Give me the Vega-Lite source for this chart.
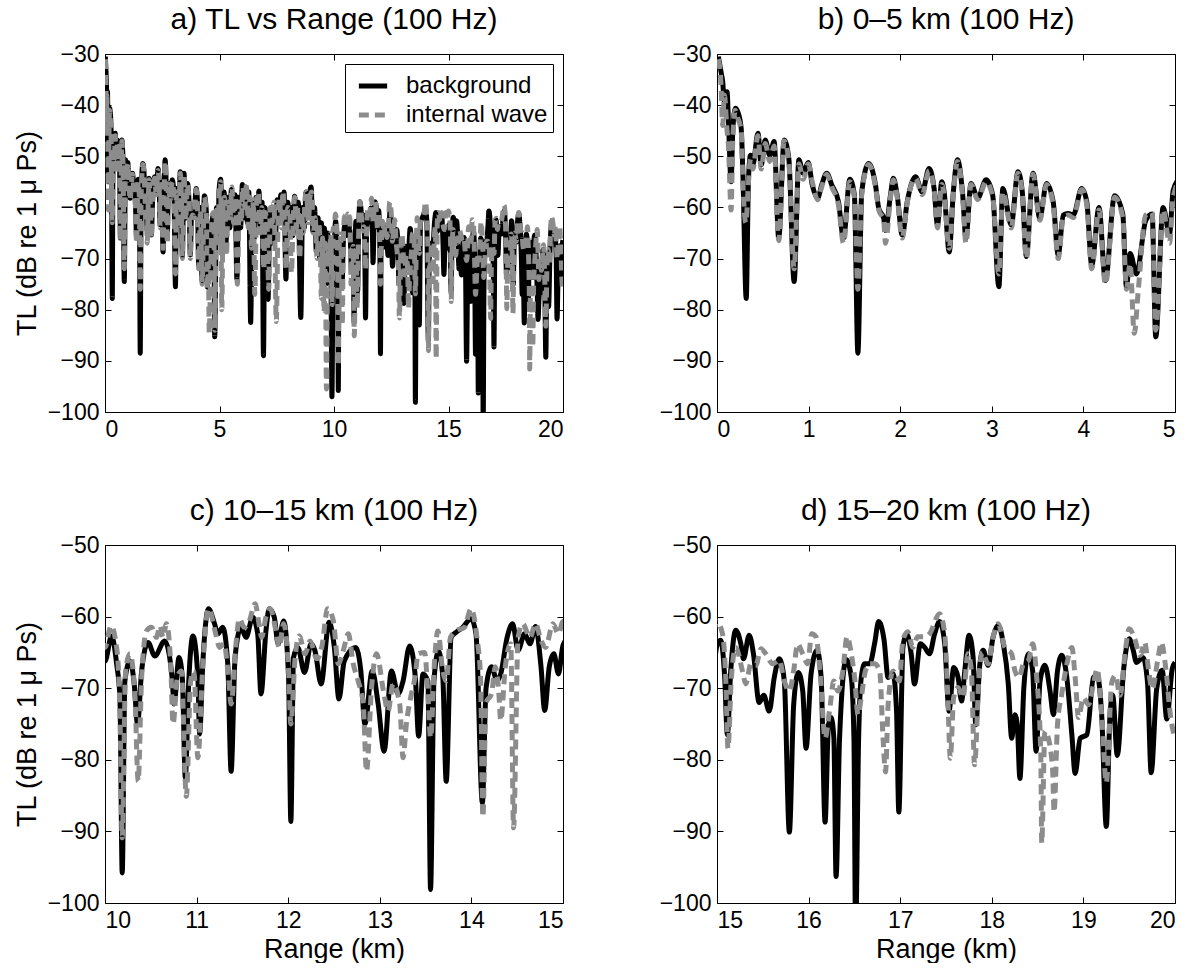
{
"$schema": "https://vega.github.io/schema/vega-lite/v6.json",
"background": "white",
"padding": {"left": 12, "top": 4, "right": 0, "bottom": 0},
"config": {
  "font": "Liberation Sans",
  "view": {"stroke": "black", "strokeWidth": 1},
  "axis": {"grid": false, "domain": false, "tickColor": "black", "tickSize": -6, "labelFontSize": 23, "labelColor": "black", "labelFont": "Liberation Sans", "titleFontSize": 27, "titleFont": "Liberation Sans", "titleFontWeight": "normal", "titleColor": "black", "labelPadding": 12},
  "title": {"fontSize": 30, "fontWeight": "normal", "font": "Liberation Sans", "color": "black", "offset": 8},
  "concat": {"spacing": 94}
},
"datasets": {
"bg": [
{"x":0.015,"y":-30.5},{"x":0.044,"y":-33.5},{"x":0.062,"y":-35.4},{"x":0.08,"y":-39.3},{"x":0.11,"y":-37.4},{"x":0.125,"y":-43.2},{"x":0.154,"y":-55},{"x":0.172,"y":-45.2},{"x":0.2,"y":-40.6},{"x":0.227,"y":-41.3},{"x":0.264,"y":-44.5},{"x":0.282,"y":-53},{"x":0.319,"y":-77.8},{"x":0.344,"y":-54.3},{"x":0.366,"y":-49.8},{"x":0.392,"y":-51.7},{"x":0.447,"y":-45.5},{"x":0.483,"y":-51.7},{"x":0.527,"y":-46.8},{"x":0.575,"y":-49.8},{"x":0.623,"y":-47.1},{"x":0.674,"y":-66},{"x":0.733,"y":-46.8},{"x":0.784,"y":-50.4},{"x":0.842,"y":-74.5},{"x":0.894,"y":-50.7},{"x":0.941,"y":-53.3},{"x":0.996,"y":-51.2},{"x":1.04,"y":-55.6},{"x":1.099,"y":-58.2},{"x":1.143,"y":-55.6},{"x":1.198,"y":-53.3},{"x":1.253,"y":-55.6},{"x":1.326,"y":-58.9},{"x":1.381,"y":-66},{"x":1.45,"y":-54.5},{"x":1.5,"y":-57.6},{"x":1.538,"y":-88.5},{"x":1.58,"y":-57},{"x":1.656,"y":-51.4},{"x":1.73,"y":-55.6},{"x":1.766,"y":-60.2},{"x":1.82,"y":-62.1},{"x":1.839,"y":-64.5},{"x":1.894,"y":-57.6},{"x":1.925,"y":-54.3},{"x":1.967,"y":-57.6},{"x":2.022,"y":-65.4},{"x":2.077,"y":-58.9},{"x":2.168,"y":-54},{"x":2.24,"y":-57},{"x":2.315,"y":-52.4},{"x":2.37,"y":-56.3},{"x":2.407,"y":-63.4},{"x":2.454,"y":-55},{"x":2.48,"y":-57},{"x":2.535,"y":-68.7},{"x":2.58,"y":-57},{"x":2.626,"y":-50.7},{"x":2.68,"y":-57},{"x":2.718,"y":-66},{"x":2.773,"y":-55.3},{"x":2.846,"y":-58.2},{"x":2.938,"y":-54.6},{"x":3.01,"y":-57.6},{"x":3.077,"y":-75.5},{"x":3.121,"y":-56.3},{"x":3.212,"y":-63.4},{"x":3.286,"y":-53},{"x":3.333,"y":-57},{"x":3.377,"y":-69.6},{"x":3.45,"y":-53.3},{"x":3.524,"y":-62.1},{"x":3.597,"y":-55.3},{"x":3.67,"y":-58.9},{"x":3.725,"y":-69.3},{"x":3.78,"y":-61.5},{"x":3.835,"y":-61.2},{"x":3.89,"y":-61.5},{"x":3.981,"y":-56.3},{"x":4.037,"y":-58.9},{"x":4.091,"y":-71.3},{"x":4.17,"y":-60},{"x":4.24,"y":-74.3},{"x":4.34,"y":-57.7},{"x":4.43,"y":-61.3},{"x":4.47,"y":-75.6},{"x":4.51,"y":-69},{"x":4.58,"y":-73},{"x":4.68,"y":-62.6},{"x":4.75,"y":-61.3},{"x":4.79,"y":-85.3},{"x":4.87,"y":-60},{"x":4.94,"y":-65.2},{"x":4.98,"y":-56.7},
{"x":5.05,"y":-54.5},{"x":5.12,"y":-63},{"x":5.2,"y":-57},{"x":5.28,"y":-67},{"x":5.36,"y":-58},{"x":5.45,"y":-64},{"x":5.52,"y":-56.5},{"x":5.6,"y":-62},{"x":5.68,"y":-57.5},{"x":5.76,"y":-74},{"x":5.84,"y":-58},{"x":5.92,"y":-64},{"x":6.0,"y":-55.5},{"x":6.08,"y":-62},{"x":6.15,"y":-56},{"x":6.22,"y":-63},{"x":6.28,"y":-57},{"x":6.36,"y":-82.5},{"x":6.44,"y":-59},{"x":6.52,"y":-66},{"x":6.6,"y":-58},{"x":6.66,"y":-61},{"x":6.72,"y":-56.8},{"x":6.8,"y":-64},{"x":6.86,"y":-59},{"x":6.92,"y":-89},{"x":6.98,"y":-60},{"x":7.05,"y":-65},{"x":7.12,"y":-78},{"x":7.2,"y":-61},{"x":7.28,"y":-67},{"x":7.36,"y":-60},{"x":7.44,"y":-66},{"x":7.52,"y":-58.5},{"x":7.6,"y":-63},{"x":7.68,"y":-57.5},{"x":7.76,"y":-62},{"x":7.82,"y":-57},{"x":7.9,"y":-74},{"x":7.98,"y":-59},{"x":8.06,"y":-63},{"x":8.13,"y":-60},{"x":8.2,"y":-65.5},{"x":8.28,"y":-57.8},{"x":8.36,"y":-63},{"x":8.44,"y":-59},{"x":8.55,"y":-81.5},{"x":8.63,"y":-60},{"x":8.7,"y":-64},{"x":8.78,"y":-57},{"x":8.86,"y":-62},{"x":8.93,"y":-57.5},{"x":9.0,"y":-56},{"x":9.08,"y":-64.7},{"x":9.15,"y":-60},{"x":9.23,"y":-68.7},{"x":9.3,"y":-62},{"x":9.38,"y":-70},{"x":9.45,"y":-63},{"x":9.52,"y":-72},{"x":9.58,"y":-64},{"x":9.65,"y":-75},{"x":9.72,"y":-65},{"x":9.8,"y":-73},{"x":9.85,"y":-66},{"x":9.91,"y":-97},{"x":9.97,"y":-66},
{"x":10.0,"y":-66.2},{"x":10.072,"y":-62.7},{"x":10.127,"y":-66.6},{"x":10.163,"y":-71.3},{"x":10.188,"y":-95.8},{"x":10.217,"y":-69},{"x":10.272,"y":-66.2},{"x":10.319,"y":-69.4},{"x":10.355,"y":-75},{"x":10.4,"y":-67.6},{"x":10.47,"y":-63.6},{"x":10.543,"y":-65.5},{"x":10.652,"y":-63.4},{"x":10.732,"y":-68.5},{"x":10.754,"y":-72.2},{"x":10.808,"y":-65.7},{"x":10.844,"y":-68.5},{"x":10.877,"y":-82.5},{"x":10.913,"y":-69.4},{"x":10.96,"y":-62.7},{"x":11.014,"y":-68.5},{"x":11.033,"y":-76.4},{"x":11.069,"y":-66.2},{"x":11.13,"y":-58.9},{"x":11.196,"y":-61},{"x":11.232,"y":-62.4},{"x":11.286,"y":-61.5},{"x":11.34,"y":-66.6},{"x":11.377,"y":-81.6},{"x":11.42,"y":-65.7},{"x":11.486,"y":-61.5},{"x":11.54,"y":-62.9},{"x":11.612,"y":-60.1},{"x":11.667,"y":-62.4},{"x":11.703,"y":-70.8},{"x":11.757,"y":-62},{"x":11.793,"y":-58.9},{"x":11.848,"y":-60.1},{"x":11.89,"y":-63.8},{"x":11.95,"y":-60.6},{"x":12.004,"y":-68.5},{"x":12.029,"y":-88.6},{"x":12.058,"y":-65.7},{"x":12.105,"y":-64.3},{"x":12.178,"y":-67.8},{"x":12.25,"y":-63.8},{"x":12.293,"y":-64.8},{"x":12.359,"y":-69.4},{"x":12.446,"y":-60.8},{"x":12.504,"y":-64.3},{"x":12.554,"y":-71.5},{"x":12.612,"y":-66.2},{"x":12.736,"y":-64.3},{"x":12.793,"y":-67.6},{"x":12.837,"y":-75},{"x":12.917,"y":-67.6},{"x":12.982,"y":-72.2},{"x":13.047,"y":-78.8},{"x":13.127,"y":-67.6},{"x":13.2,"y":-70.8},{"x":13.254,"y":-69},{"x":13.326,"y":-64.1},{"x":13.388,"y":-68.5},{"x":13.424,"y":-76.7},{"x":13.471,"y":-68},{"x":13.525,"y":-69},{"x":13.554,"y":-98.1},{"x":13.591,"y":-69},{"x":13.641,"y":-64.8},{"x":13.688,"y":-68.5},{"x":13.725,"y":-83},{"x":13.779,"y":-62.9},{"x":13.833,"y":-62.2},{"x":13.906,"y":-61.5},{"x":13.996,"y":-60.3},{"x":14.05,"y":-62.4},{"x":14.12,"y":-86},{"x":14.16,"y":-70},{"x":14.22,"y":-67},{"x":14.28,"y":-69},{"x":14.32,"y":-68},{"x":14.39,"y":-62.9},{"x":14.45,"y":-61},{"x":14.51,"y":-64.7},{"x":14.58,"y":-62.4},{"x":14.64,"y":-63.8},{"x":14.7,"y":-61.4},{"x":14.76,"y":-67},{"x":14.8,"y":-73.1},{"x":14.85,"y":-67},{"x":14.9,"y":-65.2},{"x":14.95,"y":-68},
{"x":15.0,"y":-64},{"x":15.04,"y":-63.3},{"x":15.084,"y":-68.5},{"x":15.113,"y":-76.5},{"x":15.15,"y":-67.6},{"x":15.205,"y":-61.9},{"x":15.26,"y":-63.8},{"x":15.289,"y":-65.9},{"x":15.351,"y":-62.6},{"x":15.398,"y":-65.2},{"x":15.46,"y":-72},{"x":15.51,"y":-71},{"x":15.57,"y":-73.2},{"x":15.625,"y":-68.5},{"x":15.68,"y":-65.9},{"x":15.735,"y":-69},{"x":15.79,"y":-90.1},{"x":15.837,"y":-72.3},{"x":15.888,"y":-67.8},{"x":15.936,"y":-70.4},{"x":15.972,"y":-78.4},{"x":16.027,"y":-68},{"x":16.093,"y":-64.7},{"x":16.137,"y":-68.5},{"x":16.18,"y":-88.7},{"x":16.217,"y":-75.1},{"x":16.246,"y":-74.1},{"x":16.276,"y":-77},{"x":16.3,"y":-96.3},{"x":16.338,"y":-77},{"x":16.41,"y":-66},{"x":16.466,"y":-68.5},{"x":16.495,"y":-77},{"x":16.513,"y":-104},{"x":16.546,"y":-77},{"x":16.575,"y":-68.5},{"x":16.612,"y":-66.6},{"x":16.667,"y":-66.6},{"x":16.72,"y":-63.8},{"x":16.765,"y":-60.7},{"x":16.824,"y":-63.3},{"x":16.868,"y":-68.5},{"x":16.922,"y":-68},{"x":16.96,"y":-73.2},{"x":16.985,"y":-87.3},{"x":17.03,"y":-64.3},{"x":17.07,"y":-62.4},{"x":17.12,"y":-65.2},{"x":17.156,"y":-69.4},{"x":17.22,"y":-63.8},{"x":17.267,"y":-64.3},{"x":17.32,"y":-65.2},{"x":17.376,"y":-62.4},{"x":17.43,"y":-60.7},{"x":17.486,"y":-63.8},{"x":17.533,"y":-73.2},{"x":17.584,"y":-67.1},{"x":17.632,"y":-68.5},{"x":17.67,"y":-71.8},{"x":17.705,"y":-67.6},{"x":17.752,"y":-62.6},{"x":17.796,"y":-65.7},{"x":17.825,"y":-75.1},{"x":17.87,"y":-66.6},{"x":17.906,"y":-64.7},{"x":17.96,"y":-66.8},{"x":18.015,"y":-62.8},{"x":18.07,"y":-61.2},{"x":18.126,"y":-63.8},{"x":18.18,"y":-69.4},{"x":18.217,"y":-77},{"x":18.253,"y":-73.7},{"x":18.278,"y":-75.1},{"x":18.307,"y":-82.6},{"x":18.35,"y":-69.9},{"x":18.4,"y":-65.2},{"x":18.446,"y":-67.6},{"x":18.483,"y":-78.8},{"x":18.527,"y":-69},{"x":18.58,"y":-66.8},{"x":18.636,"y":-70.4},{"x":18.673,"y":-73.7},{"x":18.717,"y":-67.6},{"x":18.764,"y":-65.4},{"x":18.819,"y":-68.5},{"x":18.874,"y":-76.5},{"x":18.91,"y":-81.9},{"x":18.965,"y":-77},{"x":19.038,"y":-76.5},{"x":19.11,"y":-68.5},{"x":19.15,"y":-68.2},{"x":19.2,"y":-73.8},{"x":19.25,"y":-89.3},{"x":19.29,"y":-73.8},{"x":19.32,"y":-71},{"x":19.37,"y":-79.4},{"x":19.44,"y":-67.3},{"x":19.5,"y":-63.1},{"x":19.54,"y":-64.5},{"x":19.58,"y":-66.4},{"x":19.65,"y":-65.7},{"x":19.7,"y":-69.2},{"x":19.74,"y":-81.8},{"x":19.8,"y":-70.1},{"x":19.86,"y":-67.5},{"x":19.91,"y":-74.3},{"x":19.97,"y":-67.3},{"x":20.0,"y":-66.4}
],
"iw": [
{"x":0.015,"y":-31},{"x":0.044,"y":-36},{"x":0.062,"y":-44},{"x":0.08,"y":-38},{"x":0.11,"y":-45},{"x":0.125,"y":-48},{"x":0.154,"y":-60.5},{"x":0.172,"y":-47},{"x":0.2,"y":-41},{"x":0.227,"y":-42.5},{"x":0.264,"y":-45},{"x":0.282,"y":-55},{"x":0.315,"y":-63},{"x":0.344,"y":-55},{"x":0.366,"y":-50.5},{"x":0.392,"y":-52.5},{"x":0.447,"y":-46},{"x":0.483,"y":-52.5},{"x":0.527,"y":-47.5},{"x":0.575,"y":-51},{"x":0.623,"y":-48},{"x":0.674,"y":-66.5},{"x":0.733,"y":-47},{"x":0.784,"y":-51},{"x":0.842,"y":-72},{"x":0.894,"y":-51.5},{"x":0.941,"y":-54.5},{"x":0.996,"y":-51.5},{"x":1.04,"y":-55},{"x":1.099,"y":-58.5},{"x":1.143,"y":-56},{"x":1.198,"y":-53.5},{"x":1.253,"y":-56},{"x":1.326,"y":-59.5},{"x":1.381,"y":-67},{"x":1.45,"y":-55},{"x":1.5,"y":-58},{"x":1.538,"y":-76},{"x":1.58,"y":-57.5},{"x":1.656,"y":-51.6},{"x":1.73,"y":-56},{"x":1.766,"y":-60.5},{"x":1.82,"y":-62.5},{"x":1.839,"y":-67},{"x":1.894,"y":-58},{"x":1.925,"y":-54.6},{"x":1.967,"y":-58},{"x":2.022,"y":-66},{"x":2.077,"y":-59},{"x":2.168,"y":-54.3},{"x":2.24,"y":-57.5},{"x":2.315,"y":-52.8},{"x":2.37,"y":-56.5},{"x":2.407,"y":-64},{"x":2.454,"y":-55.5},{"x":2.48,"y":-57.5},{"x":2.535,"y":-68},{"x":2.58,"y":-57.5},{"x":2.626,"y":-51},{"x":2.68,"y":-57.5},{"x":2.718,"y":-67},{"x":2.773,"y":-55.5},{"x":2.846,"y":-58.5},{"x":2.938,"y":-55},{"x":3.01,"y":-58},{"x":3.077,"y":-73},{"x":3.121,"y":-57},{"x":3.212,"y":-64},{"x":3.286,"y":-53.3},{"x":3.333,"y":-57.5},{"x":3.377,"y":-70},{"x":3.45,"y":-53.5},{"x":3.524,"y":-62.5},{"x":3.597,"y":-55.5},{"x":3.67,"y":-59.5},{"x":3.725,"y":-70},{"x":3.78,"y":-62},{"x":3.835,"y":-61.5},{"x":3.89,"y":-62},{"x":3.981,"y":-56.5},{"x":4.037,"y":-59.5},{"x":4.091,"y":-72},{"x":4.17,"y":-60.5},{"x":4.24,"y":-75},{"x":4.34,"y":-58},{"x":4.43,"y":-62},{"x":4.47,"y":-76},{"x":4.51,"y":-71},{"x":4.555,"y":-84.6},{"x":4.6,"y":-76},{"x":4.68,"y":-61.5},{"x":4.75,"y":-61},{"x":4.79,"y":-84},{"x":4.87,"y":-60.5},{"x":4.94,"y":-67},{"x":4.98,"y":-58},
{"x":5.05,"y":-55},{"x":5.1,"y":-80},{"x":5.16,"y":-60},{"x":5.22,"y":-58},{"x":5.3,"y":-69.5},{"x":5.38,"y":-59},{"x":5.46,"y":-62},{"x":5.54,"y":-56},{"x":5.62,"y":-63},{"x":5.7,"y":-58},{"x":5.78,"y":-75},{"x":5.86,"y":-59},{"x":5.95,"y":-63},{"x":6.02,"y":-56},{"x":6.1,"y":-60},{"x":6.18,"y":-55.5},{"x":6.26,"y":-64},{"x":6.33,"y":-58},{"x":6.4,"y":-68},{"x":6.48,"y":-58.5},{"x":6.54,"y":-77},{"x":6.62,"y":-59},{"x":6.7,"y":-57},{"x":6.78,"y":-65},{"x":6.85,"y":-60},{"x":6.93,"y":-72},{"x":7.0,"y":-61},{"x":7.08,"y":-64},{"x":7.15,"y":-76},{"x":7.22,"y":-60},{"x":7.3,"y":-63},{"x":7.38,"y":-59},{"x":7.48,"y":-82.3},{"x":7.56,"y":-62},{"x":7.62,"y":-58.2},{"x":7.7,"y":-64},{"x":7.77,"y":-56.9},{"x":7.84,"y":-63},{"x":7.91,"y":-72},{"x":7.98,"y":-60},{"x":8.06,"y":-60.2},{"x":8.14,"y":-72.8},{"x":8.22,"y":-62},{"x":8.29,"y":-58},{"x":8.36,"y":-64},{"x":8.43,"y":-60},{"x":8.5,"y":-70},{"x":8.58,"y":-61},{"x":8.66,"y":-65},{"x":8.74,"y":-58},{"x":8.8,"y":-56.9},{"x":8.88,"y":-63},{"x":8.95,"y":-58},{"x":9.02,"y":-57},{"x":9.1,"y":-65},{"x":9.18,"y":-62},{"x":9.26,"y":-70},{"x":9.33,"y":-63},{"x":9.4,"y":-68},{"x":9.45,"y":-77.8},{"x":9.5,"y":-66},{"x":9.57,"y":-80.4},{"x":9.62,"y":-67},{"x":9.67,"y":-95.5},{"x":9.73,"y":-68},{"x":9.8,"y":-71},{"x":9.86,"y":-65},{"x":9.92,"y":-79},{"x":9.97,"y":-64},
{"x":10.0,"y":-64.3},{"x":10.065,"y":-61.3},{"x":10.127,"y":-64.3},{"x":10.163,"y":-73.2},{"x":10.188,"y":-90.9},{"x":10.225,"y":-67.6},{"x":10.272,"y":-65.2},{"x":10.326,"y":-70.8},{"x":10.362,"y":-83},{"x":10.4,"y":-68.5},{"x":10.453,"y":-62},{"x":10.507,"y":-61.5},{"x":10.562,"y":-62.9},{"x":10.6,"y":-61.3},{"x":10.634,"y":-62.9},{"x":10.67,"y":-61},{"x":10.717,"y":-66.6},{"x":10.743,"y":-75},{"x":10.79,"y":-68.5},{"x":10.833,"y":-67.6},{"x":10.888,"y":-85.1},{"x":10.935,"y":-69},{"x":10.971,"y":-67.6},{"x":11.014,"y":-79.7},{"x":11.069,"y":-66.6},{"x":11.13,"y":-58.9},{"x":11.214,"y":-62.7},{"x":11.25,"y":-64.3},{"x":11.3,"y":-63.8},{"x":11.348,"y":-68.5},{"x":11.377,"y":-72.2},{"x":11.43,"y":-63.8},{"x":11.467,"y":-60.3},{"x":11.52,"y":-61.5},{"x":11.576,"y":-60.6},{"x":11.638,"y":-58.2},{"x":11.685,"y":-61.3},{"x":11.71,"y":-62.9},{"x":11.757,"y":-60.1},{"x":11.804,"y":-58.9},{"x":11.866,"y":-62},{"x":11.902,"y":-64.3},{"x":11.95,"y":-61},{"x":12.004,"y":-67.6},{"x":12.029,"y":-75},{"x":12.076,"y":-65.7},{"x":12.12,"y":-62.7},{"x":12.185,"y":-65.2},{"x":12.239,"y":-63.4},{"x":12.312,"y":-65.9},{"x":12.366,"y":-64.3},{"x":12.431,"y":-58.9},{"x":12.493,"y":-60.6},{"x":12.547,"y":-66.6},{"x":12.6,"y":-64.8},{"x":12.656,"y":-62.4},{"x":12.71,"y":-66.6},{"x":12.764,"y":-69},{"x":12.819,"y":-72.2},{"x":12.855,"y":-81.6},{"x":12.91,"y":-69.9},{"x":12.964,"y":-65.2},{"x":13.04,"y":-70.4},{"x":13.09,"y":-73.2},{"x":13.145,"y":-69.4},{"x":13.217,"y":-72.2},{"x":13.254,"y":-79.7},{"x":13.29,"y":-75},{"x":13.337,"y":-71.3},{"x":13.384,"y":-68.5},{"x":13.42,"y":-65.2},{"x":13.49,"y":-65},{"x":13.525,"y":-70.8},{"x":13.554,"y":-76.9},{"x":13.6,"y":-65.7},{"x":13.634,"y":-62},{"x":13.688,"y":-67.6},{"x":13.725,"y":-69},{"x":13.772,"y":-62.9},{"x":13.833,"y":-62},{"x":13.924,"y":-61.5},{"x":13.996,"y":-58.9},{"x":14.06,"y":-62.9},{"x":14.1,"y":-68.5},{"x":14.125,"y":-88},{"x":14.16,"y":-72},{"x":14.22,"y":-70.8},{"x":14.26,"y":-67},{"x":14.3,"y":-70.8},{"x":14.32,"y":-74.5},{"x":14.37,"y":-67},{"x":14.43,"y":-63.8},{"x":14.46,"y":-89.5},{"x":14.51,"y":-62.9},{"x":14.56,"y":-61},{"x":14.64,"y":-62.9},{"x":14.7,"y":-61},{"x":14.76,"y":-63.3},{"x":14.81,"y":-64.3},{"x":14.89,"y":-61},{"x":14.95,"y":-62.4},
{"x":15.0,"y":-60.7},{"x":15.06,"y":-62.4},{"x":15.095,"y":-68.5},{"x":15.12,"y":-78.4},{"x":15.157,"y":-68.5},{"x":15.205,"y":-64.3},{"x":15.278,"y":-67.6},{"x":15.314,"y":-69.4},{"x":15.37,"y":-66.6},{"x":15.424,"y":-66.8},{"x":15.48,"y":-64.5},{"x":15.534,"y":-65.2},{"x":15.607,"y":-66.6},{"x":15.68,"y":-66.1},{"x":15.735,"y":-69},{"x":15.79,"y":-70.4},{"x":15.837,"y":-67.6},{"x":15.88,"y":-63.8},{"x":15.936,"y":-65.2},{"x":15.99,"y":-66.6},{"x":16.034,"y":-62.4},{"x":16.08,"y":-62.8},{"x":16.13,"y":-68.5},{"x":16.18,"y":-77},{"x":16.228,"y":-73.2},{"x":16.276,"y":-69},{"x":16.32,"y":-70.4},{"x":16.374,"y":-67.6},{"x":16.42,"y":-62.8},{"x":16.466,"y":-65.2},{"x":16.502,"y":-68.5},{"x":16.54,"y":-73.7},{"x":16.575,"y":-71.3},{"x":16.62,"y":-67.6},{"x":16.667,"y":-66.6},{"x":16.72,"y":-66.6},{"x":16.776,"y":-67.6},{"x":16.813,"y":-77},{"x":16.84,"y":-81.7},{"x":16.868,"y":-72.3},{"x":16.922,"y":-67.6},{"x":16.96,"y":-68.5},{"x":16.99,"y":-69},{"x":17.03,"y":-63.3},{"x":17.083,"y":-62.1},{"x":17.138,"y":-64.3},{"x":17.19,"y":-62.8},{"x":17.267,"y":-62.8},{"x":17.32,"y":-62.4},{"x":17.43,"y":-59.6},{"x":17.486,"y":-62.4},{"x":17.52,"y":-71.3},{"x":17.547,"y":-79.8},{"x":17.584,"y":-71.3},{"x":17.632,"y":-69.9},{"x":17.686,"y":-71.3},{"x":17.74,"y":-65.2},{"x":17.777,"y":-67.6},{"x":17.812,"y":-80.7},{"x":17.86,"y":-68.5},{"x":17.896,"y":-65},{"x":17.96,"y":-66.6},{"x":18.015,"y":-62.8},{"x":18.07,"y":-61},{"x":18.143,"y":-64.3},{"x":18.217,"y":-65.2},{"x":18.253,"y":-67.6},{"x":18.3,"y":-68.5},{"x":18.344,"y":-66.6},{"x":18.4,"y":-66.1},{"x":18.446,"y":-63.8},{"x":18.49,"y":-68.5},{"x":18.535,"y":-79.3},{"x":18.545,"y":-91.6},{"x":18.58,"y":-76},{"x":18.618,"y":-77},{"x":18.665,"y":-81.7},{"x":18.68,"y":-87.3},{"x":18.717,"y":-75.1},{"x":18.764,"y":-70.8},{"x":18.82,"y":-66.6},{"x":18.874,"y":-64.3},{"x":18.91,"y":-68.5},{"x":18.947,"y":-74.1},{"x":19.0,"y":-71.3},{"x":19.056,"y":-72.3},{"x":19.11,"y":-69.4},{"x":19.15,"y":-67.3},{"x":19.2,"y":-73.8},{"x":19.25,"y":-83.2},{"x":19.31,"y":-69.2},{"x":19.35,"y":-68.2},{"x":19.4,"y":-71},{"x":19.46,"y":-64.5},{"x":19.5,"y":-61.7},{"x":19.56,"y":-63.1},{"x":19.62,"y":-65.4},{"x":19.67,"y":-63.6},{"x":19.71,"y":-67.3},{"x":19.75,"y":-70.1},{"x":19.82,"y":-65.4},{"x":19.85,"y":-63.6},{"x":19.9,"y":-67.3},{"x":19.95,"y":-73.8},{"x":19.99,"y":-76.6}
]
},
"vconcat": [
 {"hconcat": [
  {"title": "a) TL vs Range (100 Hz)", "width": 458, "height": 358,
   "layer": [
    {"data": {"name": "bg"}, "mark": {"type": "line", "interpolate": "monotone", "strokeWidth": 5, "clip": true},
     "encoding": {
      "x": {"field": "x", "type": "quantitative", "scale": {"domain": [0, 20], "nice": false, "zero": false}, "axis": {"values": [0, 5, 10, 15, 20], "title": null}},
      "y": {"field": "y", "type": "quantitative", "scale": {"domain": [-100, -30], "nice": false, "zero": false}, "axis": {"values": [-100, -90, -80, -70, -60, -50, -40, -30], "title": "TL (dB re 1 μ Ps)", "titlePadding": 6}},
      "color": {"datum": "background", "scale": {"domain": ["background", "internal wave"], "range": ["#000000", "#8c8c8c"]}, "legend": {"title": null, "orient": "top-right", "offset": 10, "strokeColor": "black", "fillColor": "white", "padding": 5, "labelFontSize": 24, "labelColor": "black", "labelFont": "Liberation Sans", "symbolType": "stroke", "symbolSize": 800, "symbolStrokeWidth": 5, "symbolOffset": 6, "rowPadding": 0, "labelOffset": 16, "cornerRadius": 0}},
      "strokeDash": {"datum": "background", "scale": {"domain": ["background", "internal wave"], "range": [[1, 0], [10, 6]]}, "legend": {"title": null, "orient": "top-right", "offset": 10, "strokeColor": "black", "fillColor": "white", "padding": 5, "labelFontSize": 24, "labelColor": "black", "labelFont": "Liberation Sans", "symbolType": "stroke", "symbolSize": 800, "symbolStrokeWidth": 5, "symbolOffset": 6, "rowPadding": 0, "labelOffset": 16, "cornerRadius": 0}}
     }},
    {"data": {"name": "iw"}, "mark": {"type": "line", "interpolate": "monotone", "strokeWidth": 5, "clip": true},
     "encoding": {
      "x": {"field": "x", "type": "quantitative", "scale": {"domain": [0, 20], "nice": false, "zero": false}, "axis": {"orient": "top", "labels": false, "title": null, "values": [0, 5, 10, 15, 20]}},
      "y": {"field": "y", "type": "quantitative", "scale": {"domain": [-100, -30], "nice": false, "zero": false}, "axis": {"orient": "right", "labels": false, "title": null, "values": [-100, -90, -80, -70, -60, -50, -40, -30]}},
      "color": {"datum": "internal wave"},
      "strokeDash": {"datum": "internal wave"}
     }}
   ],
   "resolve": {"axis": {"x": "independent", "y": "independent"}}
  },
  {"title": "b) 0–5 km (100 Hz)", "width": 458, "height": 358,
   "layer": [
    {"data": {"name": "bg"}, "mark": {"type": "line", "interpolate": "monotone", "strokeWidth": 5, "clip": true, "color": "#000000"},
     "encoding": {
      "x": {"field": "x", "type": "quantitative", "scale": {"domain": [0, 5], "nice": false, "zero": false}, "axis": {"values": [0, 1, 2, 3, 4, 5], "title": null}},
      "y": {"field": "y", "type": "quantitative", "scale": {"domain": [-100, -30], "nice": false, "zero": false}, "axis": {"values": [-100, -90, -80, -70, -60, -50, -40, -30], "title": null}}
     }},
    {"data": {"name": "iw"}, "mark": {"type": "line", "interpolate": "monotone", "strokeWidth": 5, "clip": true, "color": "#8c8c8c", "strokeDash": [10, 6]},
     "encoding": {
      "x": {"field": "x", "type": "quantitative", "scale": {"domain": [0, 5], "nice": false, "zero": false}, "axis": {"orient": "top", "labels": false, "title": null, "values": [0, 1, 2, 3, 4, 5]}},
      "y": {"field": "y", "type": "quantitative", "scale": {"domain": [-100, -30], "nice": false, "zero": false}, "axis": {"orient": "right", "labels": false, "title": null, "values": [-100, -90, -80, -70, -60, -50, -40, -30]}}
     }}
   ],
   "resolve": {"axis": {"x": "independent", "y": "independent"}}
  }
 ],
 "resolve": {"scale": {"color": "independent", "strokeDash": "independent"}, "legend": {"color": "independent", "strokeDash": "independent"}}
 },
 {"hconcat": [
  {"title": "c) 10–15 km (100 Hz)", "width": 458, "height": 358,
   "layer": [
    {"data": {"name": "bg"}, "mark": {"type": "line", "interpolate": "monotone", "strokeWidth": 5, "clip": true, "color": "#000000"},
     "encoding": {
      "x": {"field": "x", "type": "quantitative", "scale": {"domain": [10, 15], "nice": false, "zero": false}, "axis": {"values": [10, 11, 12, 13, 14, 15], "title": "Range (km)", "titlePadding": 4}},
      "y": {"field": "y", "type": "quantitative", "scale": {"domain": [-100, -50], "nice": false, "zero": false}, "axis": {"values": [-100, -90, -80, -70, -60, -50], "title": "TL (dB re 1 μ Ps)", "titlePadding": 6}}
     }},
    {"data": {"name": "iw"}, "mark": {"type": "line", "interpolate": "monotone", "strokeWidth": 5, "clip": true, "color": "#8c8c8c", "strokeDash": [10, 6]},
     "encoding": {
      "x": {"field": "x", "type": "quantitative", "scale": {"domain": [10, 15], "nice": false, "zero": false}, "axis": {"orient": "top", "labels": false, "title": null, "values": [10, 11, 12, 13, 14, 15]}},
      "y": {"field": "y", "type": "quantitative", "scale": {"domain": [-100, -50], "nice": false, "zero": false}, "axis": {"orient": "right", "labels": false, "title": null, "values": [-100, -90, -80, -70, -60, -50]}}
     }}
   ],
   "resolve": {"axis": {"x": "independent", "y": "independent"}}
  },
  {"title": "d) 15–20 km (100 Hz)", "width": 458, "height": 358,
   "layer": [
    {"data": {"name": "bg"}, "mark": {"type": "line", "interpolate": "monotone", "strokeWidth": 5, "clip": true, "color": "#000000"},
     "encoding": {
      "x": {"field": "x", "type": "quantitative", "scale": {"domain": [15, 20], "nice": false, "zero": false}, "axis": {"values": [15, 16, 17, 18, 19, 20], "title": "Range (km)", "titlePadding": 4}},
      "y": {"field": "y", "type": "quantitative", "scale": {"domain": [-100, -50], "nice": false, "zero": false}, "axis": {"values": [-100, -90, -80, -70, -60, -50], "title": null}}
     }},
    {"data": {"name": "iw"}, "mark": {"type": "line", "interpolate": "monotone", "strokeWidth": 5, "clip": true, "color": "#8c8c8c", "strokeDash": [10, 6]},
     "encoding": {
      "x": {"field": "x", "type": "quantitative", "scale": {"domain": [15, 20], "nice": false, "zero": false}, "axis": {"orient": "top", "labels": false, "title": null, "values": [15, 16, 17, 18, 19, 20]}},
      "y": {"field": "y", "type": "quantitative", "scale": {"domain": [-100, -50], "nice": false, "zero": false}, "axis": {"orient": "right", "labels": false, "title": null, "values": [-100, -90, -80, -70, -60, -50]}}
     }}
   ],
   "resolve": {"axis": {"x": "independent", "y": "independent"}}
  }
 ]}
],
"spacing": 53,
"resolve": {"scale": {"color": "independent", "strokeDash": "independent"}, "legend": {"color": "independent", "strokeDash": "independent"}}
}
